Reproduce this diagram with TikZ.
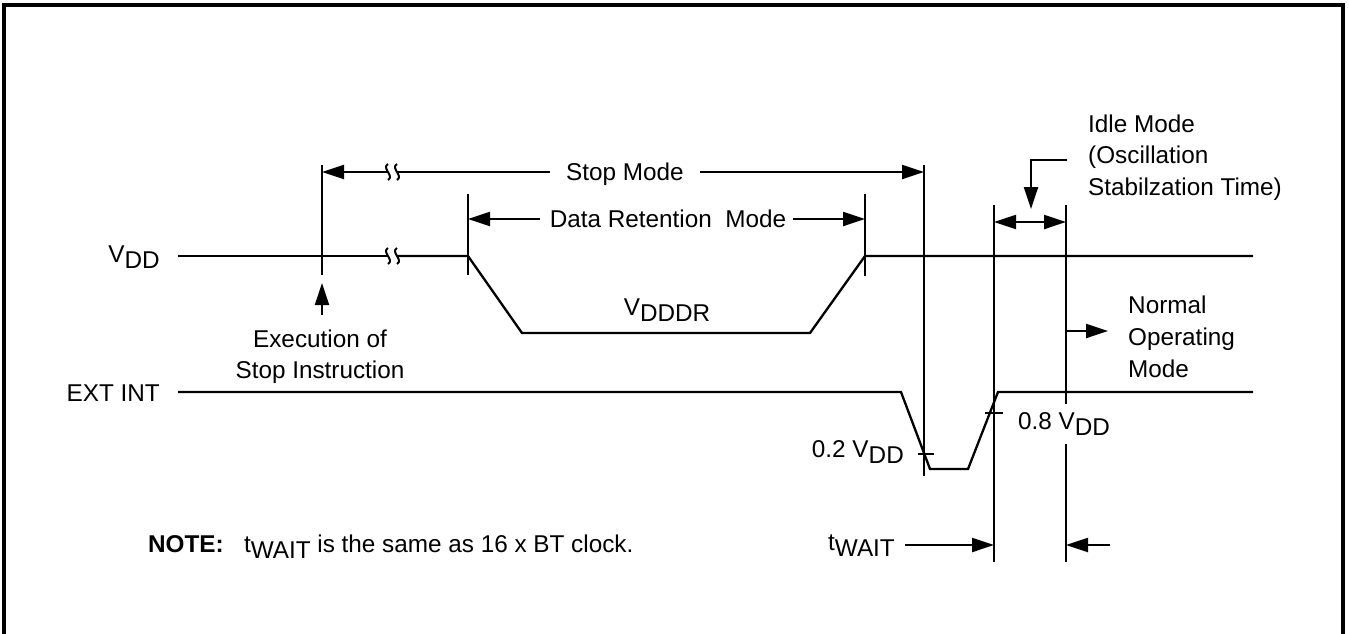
\documentclass[tikz,border=0pt]{standalone}
\usepackage{fontspec}
\setmainfont{Liberation Sans}
\usetikzlibrary{arrows.meta}
\newcommand\lowsub[1]{\raisebox{-0.28em}{#1}}
\tikzset{
  ln/.style={line width=2.3pt},
  arr/.style={ln,-{Triangle[length=22pt,width=14pt]}},
  darr/.style={ln,{Triangle[length=22pt,width=14pt]}-{Triangle[length=22pt,width=14pt]}},
  lbl/.style={inner sep=0pt,font=\fontsize{24.3}{32}\selectfont},
  squig/.style={line width=2pt},
}
\begin{document}
\begin{tikzpicture}[x=1pt,y=-1pt]
\useasboundingbox (0,0) rectangle (1349,633);
% frame
\draw[line width=4pt] (4,640) -- (4,5) -- (1343,5) -- (1343,640);

% labels on left
\node[lbl,anchor=base east] (vddlbl) at (160,262) {V\lowsub{DD}};
\node[lbl,anchor=base east] (extlbl) at (160,401) {EXT INT};

% VDD waveform
\coordinate (v0) at (178,256);
\coordinate (vb1) at (388,256);
\coordinate (vb2) at (397,256);
\coordinate (v1) at (468,256);
\coordinate (v2) at (522,333);
\coordinate (v3) at (810,333);
\coordinate (v4) at (865,256);
\coordinate (v5) at (1253,256);
\draw[ln] (v0) -- (vb1);
\draw[ln,line join=miter] (vb2) -- (v1) -- (v2) -- (v3) -- (v4) -- (v5);
\foreach \x in {388,397}{
  \draw[squig] (\x,248) .. controls (\x-7,252) and (\x+7,260) .. (\x,264);
}

% EXT INT waveform
\coordinate (e0) at (178,392);
\coordinate (e1) at (901,392);
\coordinate (e2) at (930,469);
\coordinate (e3) at (968,469);
\coordinate (e4) at (998,392);
\coordinate (e5) at (1253,392);
\draw[ln,line join=miter] (e0) -- (e1) -- (e2) -- (e3) -- (e4) -- (e5);
% threshold ticks
\coordinate (t2a) at (918,454); \coordinate (t2b) at (934,454);
\coordinate (t8a) at (985,413); \coordinate (t8b) at (1003,413);
\draw[ln] (t2a) -- (t2b);
\draw[ln] (t8a) -- (t8b);
\node[lbl,anchor=base east] (v02) at (904,457) {0.2 V\lowsub{DD}};
\node[lbl,anchor=base west] (v08) at (1018,429) {0.8 V\lowsub{DD}};

% vertical markers
\coordinate (m1t) at (322,165); \coordinate (m1b) at (322,275);
\coordinate (m2t) at (468,194); \coordinate (m2b) at (468,275);
\coordinate (m3t) at (865,194); \coordinate (m3b) at (865,276);
\coordinate (m4t) at (924,165); \coordinate (m4b) at (924,476);
\coordinate (m5t) at (994,205); \coordinate (m5b) at (994,562);
\coordinate (m6t) at (1066,205); \coordinate (m6g1) at (1066,404);
\coordinate (m6g2) at (1066,444); \coordinate (m6b) at (1066,562);
\draw[ln] (m1t) -- (m1b);
\draw[ln] (m2t) -- (m2b);
\draw[ln] (m3t) -- (m3b);
\draw[ln] (m4t) -- (m4b);
\draw[ln] (m5t) -- (m5b);
\draw[ln] (m6t) -- (m6g1);
\draw[ln] (m6g2) -- (m6b);

% Stop Mode
\node[lbl,anchor=base] (stop) at (625,180) {Stop Mode};
\coordinate (sb1) at (388,172);
\coordinate (sb2) at (397,172);
\coordinate (sl) at (550,172);
\coordinate (sr) at (700,172);
\draw[arr] (sb1) -- (m1t |- sb1);
\draw[ln] (sl) -- (sb2);
\draw[arr] (sr) -- (m4t |- sr);
\foreach \x in {388,397}{
  \draw[squig] (\x,164) .. controls (\x-7,168) and (\x+7,176) .. (\x,180);
}

% Data Retention Mode
\node[lbl,anchor=base] (drm) at (668,227) {Data Retention\ \ Mode};
\coordinate (dl) at (540,219);
\coordinate (dr) at (793,219);
\draw[arr] (dl) -- (m2t |- dl);
\draw[arr] (dr) -- (m3t |- dr);

\node[lbl,anchor=base] (vdddr) at (667,315) {V\lowsub{DDDR}};

% Execution of stop instruction
\coordinate (exa) at (322,315);
\coordinate (exb) at (322,283);
\draw[arr] (exa) -- (exb);
\node[lbl,anchor=base] (exec) at (320,347) {Execution of};
\node[lbl,anchor=base] (exec2) at (320,378) {Stop Instruction};

% Idle Mode
\node[lbl,anchor=base west] (idle1) at (1088,132) {Idle Mode};
\node[lbl,anchor=base west] (idle2) at (1088,163) {(Oscillation};
\node[lbl,anchor=base west] (idle3) at (1088,195) {Stabilzation Time)};
\coordinate (ip0) at (1067,160);
\coordinate (ip1) at (1031,160);
\coordinate (ip2) at (1031,209);
\draw[arr] (ip0) -- (ip1) -- (ip2);
\coordinate (ia) at (994,222);
\coordinate (ib) at (1066,222);
\draw[darr] (ia) -- (ib);

% Normal operating mode
\coordinate (na) at (1066,331);
\coordinate (nb) at (1108,331);
\draw[arr] (na) -- (nb);
\node[lbl,anchor=base west] (nom1) at (1128,313) {Normal};
\node[lbl,anchor=base west] (nom2) at (1128,345) {Operating};
\node[lbl,anchor=base west] (nom3) at (1128,377) {Mode};

% tWAIT
\node[lbl,anchor=base east] (tw) at (895,550) {t\lowsub{WAIT}};
\coordinate (twa) at (905,545);
\draw[arr] (twa) -- (m5t |- twa);
\coordinate (twb) at (1110,545);
\draw[arr] (twb) -- (m6t |- twb);

% Note
\node[lbl,anchor=base west] (note) at (148,552) {\textbf{NOTE:}\ \ \ t\lowsub{WAIT} is the same as 16 x BT clock.};
\end{tikzpicture}
\end{document}
